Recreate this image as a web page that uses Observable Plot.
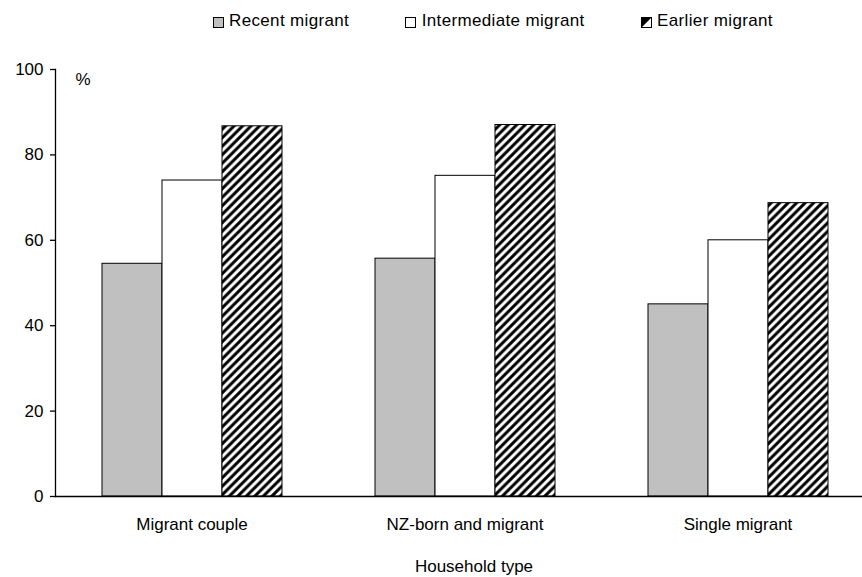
<!DOCTYPE html>
<html>
<head>
<meta charset="utf-8">
<script src="https://cdn.jsdelivr.net/npm/d3@7"></script>
<script src="https://cdn.jsdelivr.net/npm/@observablehq/plot@0.6"></script>
<style>
  html, body { margin: 0; padding: 0; background: #fff; }
  body { width: 862px; height: 577px; overflow: hidden; font-family: "Liberation Sans", Arial, sans-serif; color: #000; }
  #legend { height: 36px; box-sizing: border-box; padding-top: 11px; padding-left: 212.5px; display: flex; align-items: flex-start; font-size: 17px; line-height: 19px; letter-spacing: 0.35px; }
  #legend .item { display: flex; align-items: flex-start; margin-right: 56px; white-space: nowrap; }
  #legend svg { margin-top: 6px; margin-right: 5.5px; display: block; }
  #chart svg { display: block; }
</style>
</head>
<body>
<svg width="0" height="0" style="position:absolute">
  <defs>
    <pattern id="hatch" patternUnits="userSpaceOnUse" width="8.5" height="8.5">
      <rect width="8.5" height="8.5" fill="#fff"></rect>
      <path d="M-2,2 L2,-2 M0,8.5 L8.5,0 M6.5,10.5 L10.5,6.5" stroke="#000" stroke-width="3"></path>
    </pattern>
  </defs>
</svg>
<div id="legend"></div>
<div id="chart"></div>
<script>
// ---- data ----
const categories = ["Migrant couple", "NZ-born and migrant", "Single migrant"];
const series = ["Recent migrant", "Intermediate migrant", "Earlier migrant"];
const recent = [54.5, 55.7, 45.0];
const intermediate = [74.0, 75.1, 60.0];
const earlier = [86.7, 87.0, 68.7];
const yTicks = [0, 20, 40, 60, 80, 100];
const yUnit = "%";
const xTitle = "Household type";

// ---- styles ----
const fills = ["#c0c0c0", "#ffffff", "url(#hatch)"];

const valuesBySeries = [recent, intermediate, earlier];
const rows = categories.flatMap((c, i) =>
  series.map((s, j) => ({category: c, series: s, value: valuesBySeries[j][i]}))
);

// legend
const legend = d3.select("#legend");
series.forEach((s, j) => {
  const item = legend.append("div").attr("class", "item");
  const sw = item.append("svg").attr("width", 11).attr("height", 11);
  sw.append("rect").attr("x", 0.5).attr("y", 0.5).attr("width", 10).attr("height", 10)
    .attr("fill", j === 2 ? "#fff" : fills[j]).attr("stroke", "#000").attr("stroke-width", 1);
  if (j === 2) {
    sw.append("path").attr("d", "M0.5,0.5 L10.5,0.5 L0.5,10.5 Z").attr("fill", "#000");
  }
  item.append("span").text(s);
});

const fontFamily = "'Liberation Sans', Arial, sans-serif";

const chart = Plot.plot({
  width: 862,
  height: 541,
  marginLeft: 54,
  marginRight: 0,
  marginTop: 33,
  marginBottom: 81,
  style: {fontFamily, fontSize: "17px", color: "#000", background: "#fff"},
  fx: {domain: categories, range: [54, 874], paddingInner: 0, paddingOuter: 0},
  x: {domain: series, axis: null, paddingInner: 0, paddingOuter: 0.75},
  y: {domain: [0, 100]},
  color: {domain: series, range: fills},
  marks: [
    Plot.barY(rows, {fx: "category", x: "series", y: "value", fill: "series", stroke: "#000", strokeWidth: 1}),
    Plot.frame({anchor: "bottom", facet: "super", stroke: "#000", strokeWidth: 1.3}),
    Plot.frame({anchor: "left", facet: "super", stroke: "#000", strokeWidth: 1.3}),
    Plot.axisY({ticks: yTicks, tickSize: 5, tickPadding: 7, tickFormat: d => d, fontSize: 17, strokeWidth: 1.3, label: null}),
    Plot.axisFx({anchor: "bottom", tickSize: 0, tickPadding: 21, label: null, fontSize: 17, style: {letterSpacing: "0.35px"}}),
    Plot.text([yUnit], {facet: "super", frameAnchor: "top-left", textAnchor: "start", lineAnchor: "top", dx: 20, dy: 3, fontSize: 17}),
    Plot.text([xTitle], {facet: "super", frameAnchor: "bottom", lineAnchor: "top", dx: 9, dy: 63, fontSize: 17, style: {letterSpacing: "0.35px"}})
  ]
});
document.getElementById("chart").appendChild(chart);
</script>
</body>
</html>
